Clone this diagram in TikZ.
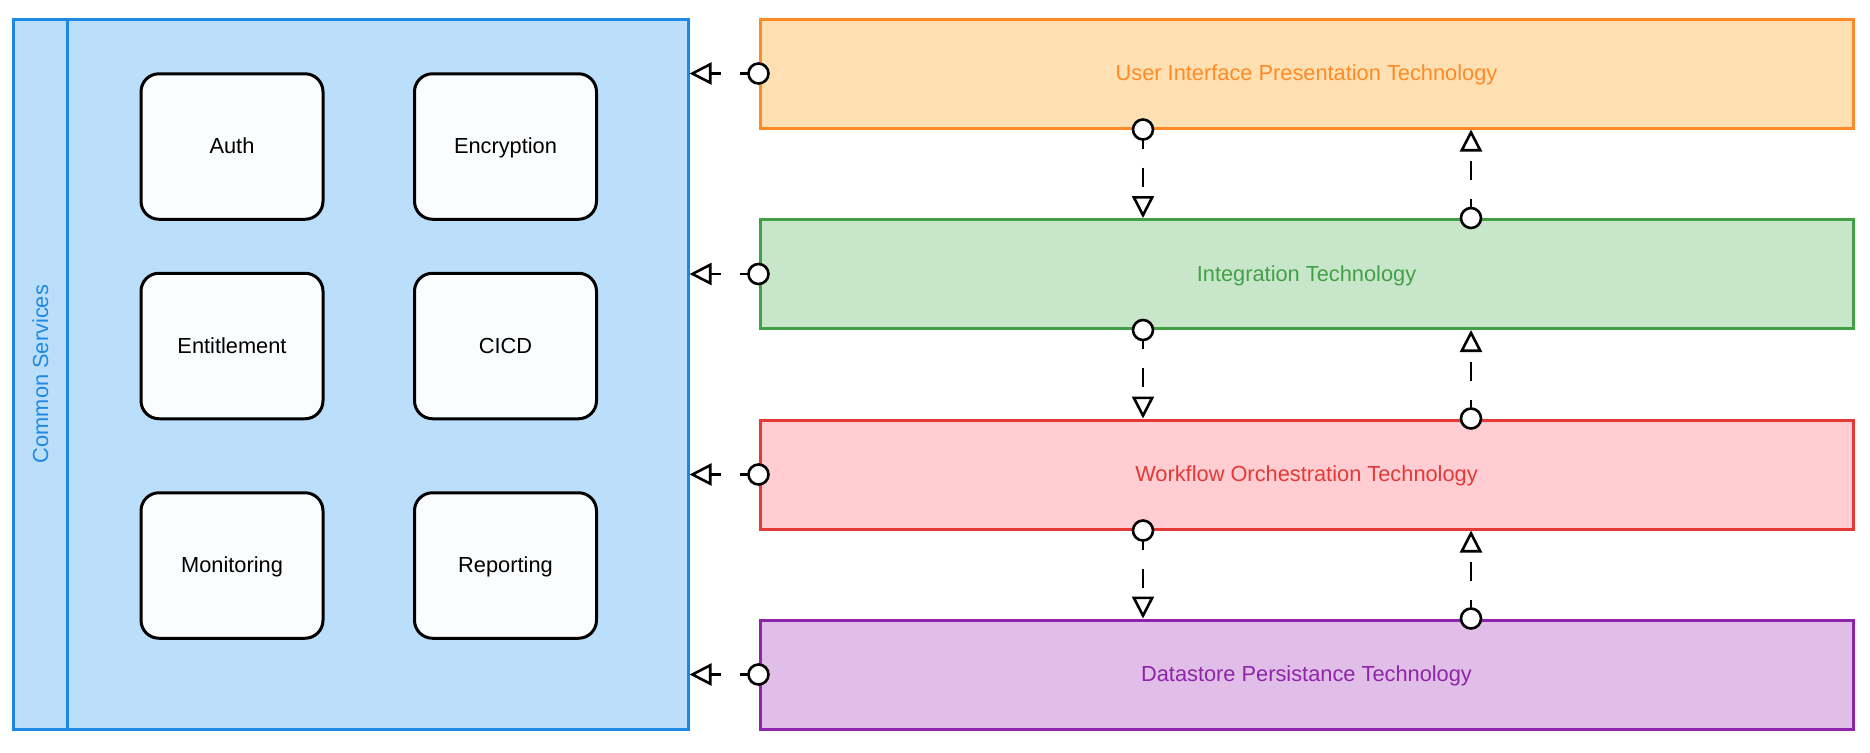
\documentclass[tikz,border=0pt]{standalone}
\usepackage{fontspec}
\setmainfont{Liberation Sans}
\usetikzlibrary{arrows.meta}
\definecolor{bluestroke}{HTML}{1E88E5}
\definecolor{bluefill}{HTML}{BBDEFB}
\definecolor{orangestroke}{HTML}{FF8A25}
\definecolor{orangefill}{HTML}{FFE0B2}
\definecolor{greenstroke}{HTML}{43A047}
\definecolor{greenfill}{HTML}{C8E6C9}
\definecolor{redstroke}{HTML}{E53935}
\definecolor{redfill}{HTML}{FFCDD2}
\definecolor{purplestroke}{HTML}{8E24AA}
\definecolor{purplefill}{HTML}{E1BEE7}
\definecolor{cardfill}{HTML}{FAFCFE}
\tikzset{
  every node/.style={font=\fontsize{10.9pt}{13pt}\selectfont, text height=8.6pt, text depth=1.6pt},
  container/.style={draw=bluestroke, fill=bluefill, line width=1.5pt, inner sep=0pt,
    minimum width=337.5pt, minimum height=355pt},
  card/.style={draw=black, fill=cardfill, line width=1.5pt, rounded corners=9pt,
    minimum width=91pt, minimum height=72.75pt, inner sep=0pt},
  layer/.style={line width=1.5pt, inner sep=0pt, minimum width=546.5pt, minimum height=54.5pt},
  link/.style={draw=black, line width=1.3pt, dash pattern=on 9.5pt off 9.5pt,
    -{Triangle[open, length=11pt, width=11pt]}},
  endcircle/.style={draw=black, fill=white, line width=1.3pt},
}
\begin{document}
\begin{tikzpicture}[x=0.5pt, y=-0.5pt]
\useasboundingbox (0,0) rectangle (1870,752);

% container
\node[container] (cs) at (350.5,374) {};
\draw[bluestroke, line width=1.5pt] ([xshift=28pt]cs.north west) -- ([xshift=28pt]cs.south west);
\node[text=bluestroke, rotate=90] (cslabel) at (41,374) {Common Services};

% cards
\node[card] (auth) at (232,146.5) {Auth};
\node[card] (enc) at (505.5,146.5) {Encryption};
\node[card] (ent) at (232,346) {Entitlement};
\node[card] (cicd) at (505.5,346) {CICD};
\node[card] (mon) at (232,565.5) {Monitoring};
\node[card] (rep) at (505.5,565.5) {Reporting};

% layers
\node[layer, draw=orangestroke, fill=orangefill, text=orangestroke] (ui) at (1306.5,73.5) {User Interface Presentation Technology};
\node[layer, draw=greenstroke, fill=greenfill, text=greenstroke] (integ) at (1306.5,274) {Integration Technology};
\node[layer, draw=redstroke, fill=redfill, text=redstroke] (wf) at (1306.5,474.5) {Workflow Orchestration Technology};
\node[layer, draw=purplestroke, fill=purplefill, text=purplestroke] (ds) at (1306.5,674.5) {Datastore Persistance Technology};

\coordinate (L) at (1143,0);
\coordinate (R) at (1471,0);

% horizontal links to common services
\foreach \n in {ui,integ,wf,ds}{
  \draw[link] (\n.west) -- (\n.west -| cs.east);
  \draw[endcircle] (\n.west) circle (5pt);
}

% vertical links
\foreach \a/\b in {ui/integ, integ/wf, wf/ds}{
  \draw[link] (\a.south -| L) -- (\b.north -| L);
  \draw[endcircle] (\a.south -| L) circle (5pt);
  \draw[link] (\b.north -| R) -- (\a.south -| R);
  \draw[endcircle] (\b.north -| R) circle (5pt);
}
\end{tikzpicture}
\end{document}
